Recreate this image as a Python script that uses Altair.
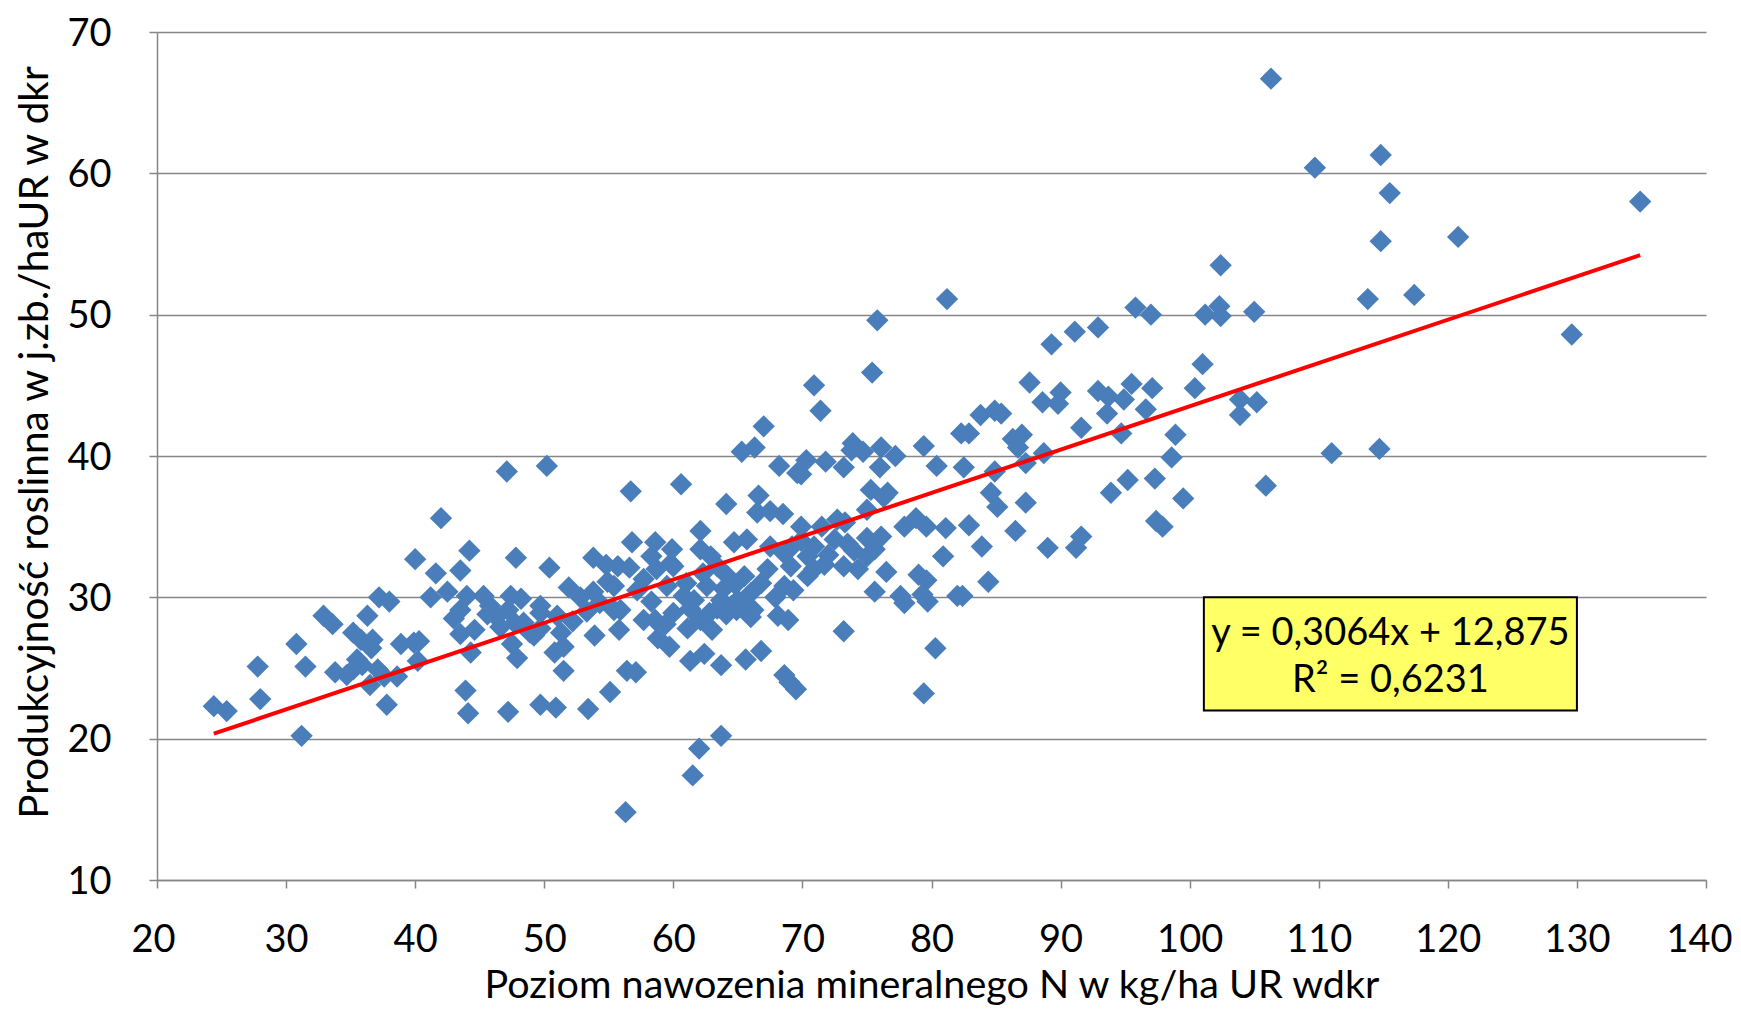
import altair as alt
import pandas as pd

# ---- data ----
x_vals = [
    24.4, 25.4, 27.8, 28.0, 30.8, 31.2, 31.5, 32.9, 33.6, 33.8, 35.2, 36.3, 37.2, 38.0, 35.8, 36.7, 36.6,
    35.5, 35.2, 34.7, 37.1, 36.5, 37.6, 37.8, 38.6, 38.9, 39.9, 40.3, 40.2, 40.0, 41.6, 41.2, 42.0, 42.5, 35.9,
    47.1, 50.2, 44.2, 47.8, 43.5, 50.4, 53.8, 54.8, 51.9, 44.0, 45.3, 45.8, 43.5, 47.4, 48.2, 47.2, 49.7,
    54.9, 53.8, 55.4, 43.9, 44.1, 47.2, 49.7, 50.9, 53.4, 55.1, 51.5, 53.9, 56.3, 43.5, 44.3, 44.6, 45.6,
    46.6, 47.5, 47.9, 47.7, 48.4, 49.2, 49.7, 49.7, 50.8, 51.5, 51.3, 51.0, 53.3, 46.3, 48.9, 52.2, 54.3,
    52.8, 43.0,
    67.0, 65.3, 66.3, 68.2, 69.6, 56.7, 60.6, 64.1, 66.6, 66.5, 67.5, 68.5, 62.1, 56.8, 58.6, 59.9, 58.3,
    59.8, 62.1, 62.9, 64.7, 65.7, 67.5, 68.6, 69.2, 56.6, 58.7, 60.0, 57.7, 59.5, 63.4, 64.2, 62.6, 65.5,
    66.0, 67.3, 69.1, 68.6, 55.7, 55.4, 61.6, 63.7, 65.0, 69.3, 61.0, 63.9, 64.8, 60.8, 66.8, 62.3, 57.2,
    58.3, 67.9,
    61.5, 62.0, 63.7, 56.4, 57.1, 61.3, 62.4, 63.7, 65.6, 66.8, 68.6, 69.0, 69.5, 55.8, 55.9, 57.7, 58.6,
    59.4, 58.8, 59.7, 61.1, 62.1, 63.0, 61.3, 63.4, 64.1, 64.9, 66.2, 68.1, 68.9, 62.8, 64.5, 65.5, 60.0,
    66.0,
    81.2, 75.8, 75.4, 70.9, 71.4, 70.3, 69.9, 71.8, 73.2, 73.9, 74.7, 73.8, 76.1, 77.2, 76.0, 79.4, 80.4,
    82.3, 75.3, 76.6,
    79.4, 80.3, 73.2, 80.9, 75.6, 76.5, 77.9, 77.6, 79.0, 79.6, 79.3, 79.7, 82.0, 77.9, 78.8, 79.6, 81.1,
    76.3, 75.0, 72.7, 69.9, 69.9, 70.9, 70.4, 72.5, 73.5, 74.0, 75.0, 76.1, 75.6, 75.0, 73.2, 70.9, 71.7,
    70.4, 73.3, 71.5, 74.3, 72.0,
    91.1, 92.9, 89.3, 87.6, 90.0, 88.6, 89.8, 92.9, 93.7, 95.5, 93.6, 94.7, 91.6, 83.8, 84.9, 85.4, 82.9,
    86.3, 87.0, 86.7, 82.5, 84.9, 87.3, 88.7,
    82.4, 84.4, 83.9, 82.9, 86.5, 89.0, 91.2, 91.6, 87.3, 85.1, 84.6, 93.9, 95.2,
    106.3, 109.7, 102.4, 95.8, 97.0, 101.2, 102.3, 102.4, 105.0, 101.0, 97.1, 94.9, 96.6, 100.4, 103.9,
    105.2, 103.9, 98.9, 98.6, 97.3, 105.9, 99.5, 97.4, 97.9,
    114.8, 115.5, 134.9, 114.8, 120.8, 113.8, 117.4, 129.6, 111.0, 114.7,
]
y_vals = [
    22.3, 21.95, 25.1, 22.8, 26.7, 20.2, 25.1, 28.7, 28.1, 24.7, 27.5, 28.7, 30.0, 29.7, 27.0, 27.0, 26.4,
    25.6, 24.9, 24.5, 24.9, 23.8, 24.4, 22.4, 24.4, 26.7, 26.8, 26.9, 25.5, 32.7, 31.7, 30.0, 35.6, 30.4, 25.2,
    38.9, 39.3, 33.3, 32.8, 31.9, 32.1, 32.8, 32.3, 30.7, 30.1, 30.1, 29.4, 29.1, 30.1, 29.9, 29.1, 29.4,
    31.1, 30.4, 29.1, 23.4, 21.8, 21.9, 22.4, 22.2, 22.1, 23.3, 24.8, 27.3, 14.8, 27.4, 26.1, 27.7, 28.8,
    27.9, 26.7, 25.7, 28.2, 28.2, 27.3, 27.8, 28.9, 26.1, 26.5, 27.5, 28.7, 29.0, 28.6, 27.5, 28.3, 29.6,
    30.0, 28.5,
    42.1, 40.3, 40.6, 39.3, 38.8, 37.5, 38.0, 36.6, 37.2, 36.0, 36.1, 35.9, 34.7, 33.9, 33.9, 33.4, 32.9,
    32.4, 33.4, 32.9, 33.9, 34.1, 33.6, 33.1, 33.6, 32.1, 32.0, 32.2, 31.3, 30.8, 32.2, 31.5, 30.8, 31.5,
    30.3, 32.0, 32.2, 30.8, 32.2, 30.8, 29.8, 29.8, 29.8, 30.5, 31.0, 30.6, 30.9, 30.1, 31.0, 31.7, 30.5,
    29.7, 30.0,
    17.4, 19.3, 20.2, 24.8, 24.7, 25.5, 26.0, 25.2, 25.6, 26.2, 24.5, 24.0, 23.5, 27.7, 29.1, 28.4, 28.4,
    28.1, 27.1, 26.5, 27.8, 28.4, 27.7, 29.2, 29.2, 28.8, 29.1, 29.1, 28.7, 28.4, 28.9, 29.4, 29.3, 28.9,
    28.6,
    51.1, 49.6, 45.9, 45.0, 43.2, 39.7, 38.7, 39.6, 39.2, 40.9, 40.3, 40.4, 40.6, 40.0, 39.2, 40.7, 39.3,
    41.6, 37.6, 37.4,
    23.2, 26.4, 27.6, 32.9, 30.4, 31.8, 29.6, 30.1, 31.6, 31.2, 30.2, 29.7, 30.1, 35.0, 35.6, 35.0, 34.9,
    37.1, 36.2, 35.5, 35.0, 34.0, 33.6, 32.9, 34.1, 33.8, 33.3, 34.2, 34.3, 33.4, 32.9, 32.2, 32.0, 32.3,
    31.5, 35.3, 35.0, 32.0, 33.0,
    48.8, 49.1, 47.9, 45.2, 44.5, 43.8, 43.7, 44.6, 44.2, 45.1, 43.0, 41.6, 42.0, 42.9, 43.2, 43.0, 41.6,
    41.2, 41.5, 40.6, 39.2, 38.9, 39.5, 40.2,
    30.1, 31.1, 33.6, 35.1, 34.7, 33.5, 33.5, 34.3, 36.7, 36.4, 37.4, 37.4, 38.3,
    66.7, 60.4, 53.5, 50.5, 50.0, 50.0, 50.6, 49.9, 50.2, 46.5, 44.8, 44.0, 43.3, 44.8, 44.0,
    43.8, 42.9, 41.5, 39.9, 38.4, 37.9, 37.0, 35.4, 35.0,
    61.3, 58.6, 58.0, 55.2, 55.5, 51.1, 51.4, 48.6, 40.2, 40.5,
]

slope = 0.3064
intercept = 12.875
eq_lines = ["y = 0,3064x + 12,875", "R² = 0,6231"]
eq_pos_y = [27.4, 24.05]
eq_pos_x = 115.55
box_x = [101.1, 130.0]
box_y = [22.0, 30.0]
x_ticks = list(range(20, 141, 10))
y_ticks = list(range(10, 71, 10))
x_title = "Poziom nawozenia mineralnego N w kg/ha UR wdkr"
y_title = "Produkcyjność roslinna w j.zb./haUR w dkr"

FONT = "Lato"
FS = 38
GRAY = "#868686"

df = pd.DataFrame({"x": x_vals, "y": y_vals})
xmin, xmax = min(x_vals), max(x_vals)
line_df = pd.DataFrame({"x": [xmin, xmax], "y": [slope * xmin + intercept, slope * xmax + intercept]})
box_df = pd.DataFrame({"x0": [box_x[0]], "x1": [box_x[1]], "y0": [box_y[0]], "y1": [box_y[1]]})
eq_df = pd.DataFrame({"tx": [eq_pos_x, eq_pos_x], "ty": eq_pos_y, "label": eq_lines})

xscale = alt.Scale(domain=[20, 140], nice=False, zero=False)
yscale = alt.Scale(domain=[10, 70], nice=False, zero=False)

x_axis = alt.Axis(
    values=x_ticks, grid=False, tickSize=8, tickColor=GRAY, tickWidth=1.5,
    domainColor=GRAY, domainWidth=1.5, labelFont=FONT, labelFontSize=FS, labelColor="black",
    labelBaseline="middle", labelPadding=52, labelFlush=True, labelFlushOffset=26,
    titleFont=FONT, titleFontSize=39.5, titleFontWeight="normal", titleColor="black",
    titleX=774.5, titleY=117, titleBaseline="alphabetic", titleAlign="center",
)
y_axis = alt.Axis(
    values=y_ticks, grid=True, gridColor=GRAY, gridWidth=1.5, tickSize=8, tickColor=GRAY, tickWidth=1.5,
    domainColor=GRAY, domainWidth=1.5, labelFont=FONT, labelFontSize=FS, labelColor="black",
    labelAlign="right", labelBaseline="middle", labelPadding=38, labelFlush=False, labelOffset=2,
    titleFont=FONT, titleFontSize=40.5, titleFontWeight="normal", titleColor="black",
    titleX=-122, titleY=410, titleAngle=270, titleBaseline="middle", titleAlign="center",
)

points = alt.Chart(df).mark_point(
    shape="diamond", filled=True, size=500, color="#4A7EBB", opacity=1
).encode(
    x=alt.X("x:Q", scale=xscale, axis=x_axis, title=x_title),
    y=alt.Y("y:Q", scale=yscale, axis=y_axis, title=y_title),
)

line = alt.Chart(line_df).mark_line(color="#FF0000", strokeWidth=4).encode(
    x=alt.X("x:Q", scale=xscale, axis=x_axis, title=x_title),
    y=alt.Y("y:Q", scale=yscale, axis=y_axis, title=y_title),
)

box = alt.Chart(box_df).mark_rect(fill="#FFFF66", stroke="black", strokeWidth=2).encode(
    x=alt.X("x0:Q", scale=xscale, axis=x_axis, title=x_title),
    x2="x1:Q",
    y=alt.Y("y0:Q", scale=yscale, axis=y_axis, title=y_title),
    y2="y1:Q",
)

text = alt.Chart(eq_df).mark_text(font=FONT, fontSize=FS, color="black", align="center", baseline="middle").encode(
    x=alt.X("tx:Q", scale=xscale, axis=x_axis, title=x_title),
    y=alt.Y("ty:Q", scale=yscale, axis=y_axis, title=y_title),
    text="label:N",
)

chart = alt.layer(points, line, box, text).properties(
    width=1549, height=848,
    autosize=alt.AutoSizeParams(type="none"),
    padding={"left": 149, "top": 24, "right": 27, "bottom": 127},
    background="white",
).configure_view(stroke=None)

chart.save("out.html", embed_options={"renderer": "svg", "actions": False})
